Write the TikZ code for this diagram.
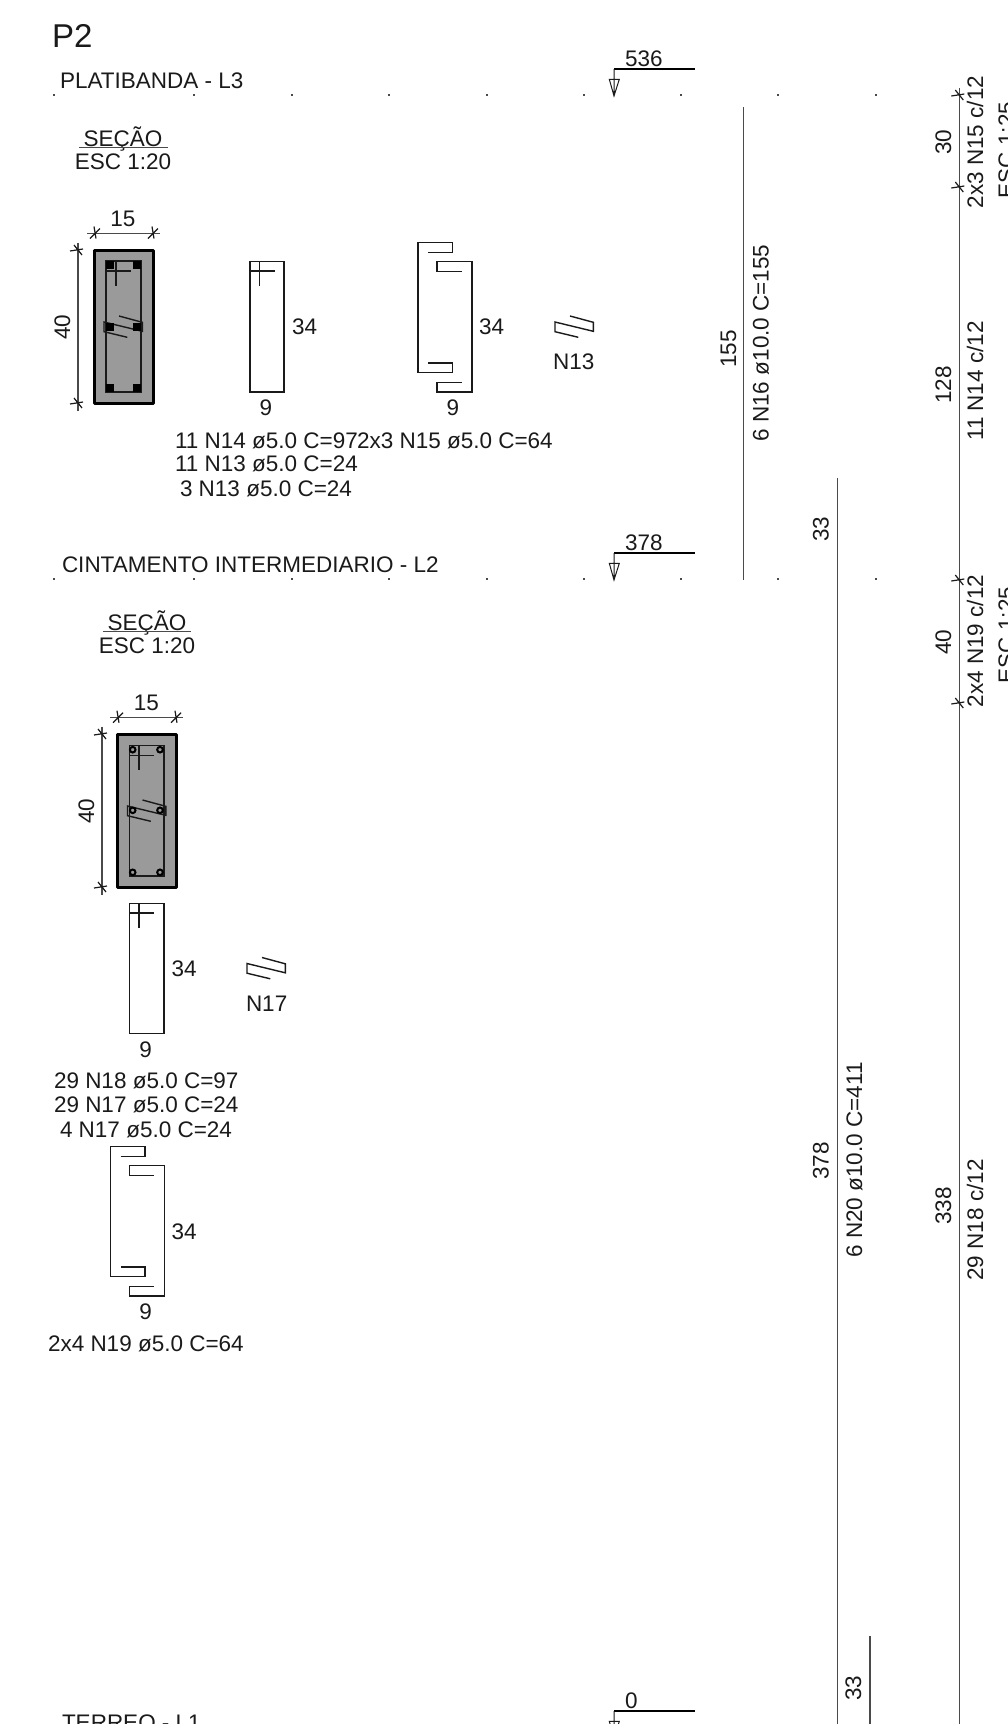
\documentclass[tikz,border=0pt]{standalone}
\usepackage{fontspec}
\setmainfont{Liberation Sans}
\definecolor{secgray}{HTML}{9A9A9A}
\definecolor{ink}{HTML}{1A1A1A}
\definecolor{dimgray}{HTML}{4A4A4A}
\tikzset{
  txt/.style={inner sep=0pt,outer sep=0pt,text=ink,font=\fontsize{22.5}{22.5}\selectfont,anchor=base},
  txtl/.style={txt,anchor=base west},
  txtv/.style={txt,rotate=90,anchor=base},
  rebar/.style={draw=ink,line width=1.4pt},
  dimln/.style={draw=dimgray,line width=1.5pt},
  tickln/.style={draw=ink,line width=1.2pt},
  levelln/.style={draw=black,line width=1.2pt},
  sectionbox/.style={draw=black,fill=secgray,line width=3pt,line join=round},
  dotmark/.style={fill=dimgray,draw=none},
  barsq/.style={fill=black,draw=none},
}
\newcommand{\gridpts}[1]{\foreach \gx in {54,194,292,389,487,584,681,778,876}{\fill[dotmark] (\gx-0.6,#1-0.6) rectangle (\gx+0.6,#1+0.6);}}
\newcommand{\level}[2]{% y of line, text
  \draw[levelln] (614,#1) -- (695,#1);
  \draw[draw=ink,line width=1pt,line join=miter] (614,#1) -- (614,#1+27) (614,#1+27) -- (609.3,#1+10.3) -- (619.3,#1+10.3) -- cycle;
  \node[txtl] (lev#2) at (625,#1-3) {#2};}
\newcommand{\vtick}[2]{\draw[tickln] (#1-8,#2+1) -- (#1+5,#2-1) (#1-4,#2-5) -- (#1+4,#2+5);}
\newcommand{\htick}[2]{\draw[tickln] (#1-1,#2-7) -- (#1+1,#2+5) (#1-5,#2+5) -- (#1+5,#2-5);}
\newcommand{\hookpair}[4]{% x0,y0 stirrup rect left top, w, h
  \draw[rebar] (#1,#2) rectangle (#1+#3,#2+#4);
  \draw[rebar] (#1,#2+9.6) -- (#1+24.5,#2+9.6) (#1+9.6,#2) -- (#1+9.6,#2+24.5);}
\newcommand{\ctie}[2]{\draw[rebar,line join=miter] (#1+15,#2-6) -- (#1+38.3,#2+0.3) -- (#1+38.3,#2+9.3) -- (#1,#2) -- (#1,#2+9.7) -- (#1+23.3,#2+15.3);}
\newcommand{\doublec}[2]{% x,y of outer left top
  \draw[rebar,line join=miter] (#1+10.3,#2+9.6) -- (#1+34.7,#2+9.6) -- (#1+34.7,#2) -- (#1,#2) -- (#1,#2+130) -- (#1+34.7,#2+130) -- (#1+34.7,#2+120.3) -- (#1+10.3,#2+120.3);
  \draw[rebar,line join=miter] (#1+43.5,#2+28.8) -- (#1+19,#2+28.8) -- (#1+19,#2+19) -- (#1+54,#2+19) -- (#1+54,#2+149.3) -- (#1+19,#2+149.3) -- (#1+19,#2+139.6) -- (#1+43.5,#2+139.6);}
\begin{document}
\begin{tikzpicture}[x=1pt,y=-1pt]
\useasboundingbox (0,0) rectangle (1007,1724);
\clip (0,0) rectangle (1007,1724);
\fill[white] (0,0) rectangle (1007,1724);

% Titles
\node[txtl,font=\fontsize{33}{33}\selectfont] (title) at (52,47) {P2};
\node[txtl] (lev3) at (60,88) {PLATIBANDA - L3};
\gridpts{95}
\level{69}{536}
\node[txt] (sec1) at (123,146) {SEÇÃO};
\draw[dimln] (79,147.5) -- (168,147.5);
\node[txt] (esc1) at (123,169) {ESC 1:20};

% Section 1
\node[txt] (d15a) at (123,226) {15};
\draw[dimln] (87,233.5) -- (160,233.5);
\htick{95}{233.5}\htick{153}{233.5}
\draw[dimln] (78,243) -- (78,411);
\vtick{78}{250}\vtick{78}{403}
\node[txtv] (d40a) at (70,327) {40};
\draw[sectionbox] (94,250) rectangle (153,403);
\draw[rebar] (106,261) rectangle (141,392);
\draw[rebar] (106,271) -- (131,271) (116,261) -- (116,286);
\ctie{104}{322}
\foreach \bx in {110,137}{\foreach \by in {265,327,388}{\fill[barsq] (\bx-4,\by-4) rectangle (\bx+4,\by+4);}}

% Stirrup N14
\hookpair{250}{261.5}{34}{130.5}
\node[txtl] (d34a) at (292,334) {34};
\node[txt] (d9a) at (266,415) {9};

% Double C N15
\doublec{418}{242.7}
\node[txtl] (d34b) at (479,334) {34};
\node[txt] (d9b) at (453,415) {9};

% N13
\ctie{555}{322}
\node[txtl] (n13) at (553,369) {N13};

\node[txtl] (t1) at (175,448) {11 N14 ø5.0 C=97};
\node[txtl] (t2) at (357,448) {2x3 N15 ø5.0 C=64};
\node[txtl] (t3) at (175,471) {11 N13 ø5.0 C=24};
\node[txtl] (t4) at (180,496) {3 N13 ø5.0 C=24};

% Level 2
\node[txtl] (lev2) at (62,572) {CINTAMENTO INTERMEDIARIO - L2};
\gridpts{579}
\level{553}{378}
\node[txt] (sec2) at (147,630) {SEÇÃO};
\draw[dimln] (103,631.5) -- (191,631.5);
\node[txt] (esc2) at (147,653) {ESC 1:20};

% Section 2
\node[txt] (d15b) at (146.5,710) {15};
\draw[dimln] (110,717.7) -- (183,717.7);
\htick{118}{717.7}\htick{176}{717.7}
\draw[dimln] (102,726.7) -- (102,895);
\vtick{102}{734}\vtick{102}{887}
\node[txtv] (d40b) at (94,811) {40};
\draw[sectionbox] (117.3,734) rectangle (176,887.3);
\draw[rebar] (129.3,745.7) rectangle (164,876);
\draw[rebar] (129.3,755.5) -- (153.7,755.5) (139,745.7) -- (139,770);
\ctie{127.5}{806}
\foreach \bx in {132.7,160}{\foreach \by in {749.7,810.3,872.3}{\draw[black,line width=2pt,fill=secgray] (\bx,\by) circle (2.8);}}

% Stirrup N18
\hookpair{129.3}{903.3}{34.7}{130.4}
\node[txtl] (d34c) at (171.7,976) {34};
\node[txt] (d9c) at (145.7,1057.7) {9};

% N17
\ctie{247}{963.5}
\node[txtl] (n17) at (246,1011) {N17};

\node[txtl] (t5) at (54,1088) {29 N18 ø5.0 C=97};
\node[txtl] (t6) at (54,1112) {29 N17 ø5.0 C=24};
\node[txtl] (t7) at (60,1137) {4 N17 ø5.0 C=24};

% Double C N19
\doublec{110.3}{1146.7}
\node[txtl] (d34d) at (171.7,1239) {34};
\node[txt] (d9d) at (145.7,1319) {9};
\node[txtl] (t8) at (48,1351) {2x4 N19 ø5.0 C=64};

% Level 1
\node[txtl] (lev1) at (62,1730) {TERREO - L1};
\level{1711}{0}

% Right column: N16
\coordinate (a1) at (743.5,107);\coordinate (a2) at (743.5,580);
\draw[dimln] (a1) -- (a2);
\node[txtv] (d155) at (736,349) {155};
\node[txtv] (l16) at (768.5,343) {6 N16 ø10.0 C=155};

% N20
\coordinate (b1) at (837.3,478);\coordinate (b2) at (837.3,1724);
\draw[dimln] (b1) -- (b2);
\node[txtv] (d33a) at (828.5,529) {33};
\node[txtv] (d378) at (828.5,1161) {378};
\node[txtv] (l20) at (862,1160) {6 N20 ø10.0 C=411};
\coordinate (c1) at (870,1636);\coordinate (c2) at (870,1724);
\draw[dimln] (c1) -- (c2);
\node[txtv] (d33b) at (861,1688) {33};

% Main vertical
\coordinate (m1) at (959.3,88);\coordinate (m2) at (959.3,1724);
\draw[dimln] (m1) -- (m2);
\vtick{959.3}{95}\vtick{959.3}{187}\vtick{959.3}{580}\vtick{959.3}{703}
\node[txtv] (d30) at (951,142) {30};
\node[txtv] (l15) at (983,142) {2x3 N15 c/12};
\node[txtv] (e1) at (1014,150) {ESC 1:25};
\node[txtv] (d128) at (951,385) {128};
\node[txtv] (l14) at (983,381) {11 N14 c/12};
\node[txtv] (d40c) at (951,642) {40};
\node[txtv] (l19) at (983,641) {2x4 N19 c/12};
\node[txtv] (e2) at (1014,635) {ESC 1:25};
\node[txtv] (d338) at (951,1206) {338};
\node[txtv] (l18) at (983,1220) {29 N18 c/12};
\end{tikzpicture}
\end{document}
